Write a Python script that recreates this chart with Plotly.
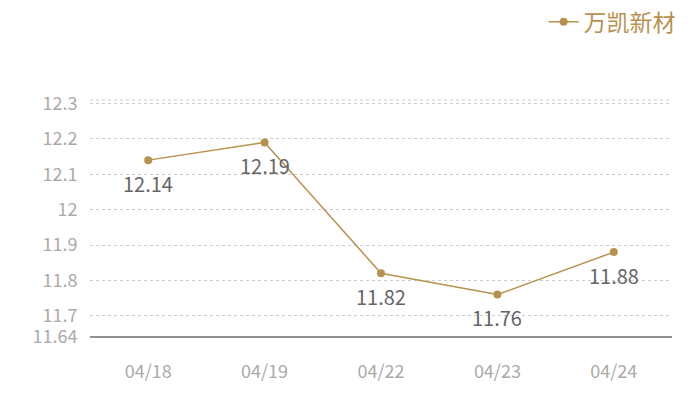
import plotly.graph_objects as go

dates = ["04/18", "04/19", "04/22", "04/23", "04/24"]
prices = [12.14, 12.19, 11.82, 11.76, 11.88]
series_name = "万凯新材"
y_ticks = [11.64, 11.7, 11.8, 11.9, 12.0, 12.1, 12.2, 12.3]
y_tick_text = ["11.64", "11.7", "11.8", "11.9", "12", "12.1", "12.2", "12.3"]

color = "#b8914f"
font_family = "Noto Sans CJK SC, Noto Sans, sans-serif"

fig = go.Figure()
fig.add_trace(go.Scatter(
    x=dates, y=prices, name=series_name, mode="lines+markers",
    line=dict(color=color, width=1.5),
    marker=dict(color=color, size=8),
))

for d, v in zip(dates, prices):
    fig.add_annotation(x=d, y=v, text=f"{v:.2f}", showarrow=False, yshift=-23,
                       font=dict(color="#666666", size=20, family=font_family))

fig.update_layout(
    width=692, height=392,
    margin=dict(l=82, r=28, t=92, b=63, autoexpand=False),
    plot_bgcolor="white", paper_bgcolor="white",
    font=dict(family=font_family),
    showlegend=True,
    legend=dict(x=0.972, y=1.33, xref="container", yref="paper", xanchor="right", yanchor="middle",
                orientation="h", font=dict(color=color, size=23, family=font_family),
                bgcolor="rgba(0,0,0,0)"),
    xaxis=dict(type="category", range=[-0.5, 4.5], showgrid=False, showline=False, zeroline=False,
               tickfont=dict(color="#aaaaaa", size=18), ticks="outside", ticklen=18, tickcolor="rgba(0,0,0,0)"),
    yaxis=dict(range=[11.64, 12.31], tickvals=y_ticks, ticktext=y_tick_text,
               showgrid=True, gridcolor="#cccccc", griddash="dot", gridwidth=1,
               zeroline=False, showline=False,
               tickfont=dict(color="#aaaaaa", size=18), ticks="outside", ticklen=8, tickcolor="rgba(0,0,0,0)"),
)
# top border gridline and bottom axis line
fig.add_shape(type="line", xref="paper", yref="paper", x0=0, x1=1, y0=1, y1=1,
              line=dict(color="#cccccc", width=1, dash="dot"))
fig.add_shape(type="line", xref="paper", yref="paper", x0=0, x1=1, y0=0, y1=0,
              line=dict(color="#222222", width=1))

fig.write_html("out.html")
